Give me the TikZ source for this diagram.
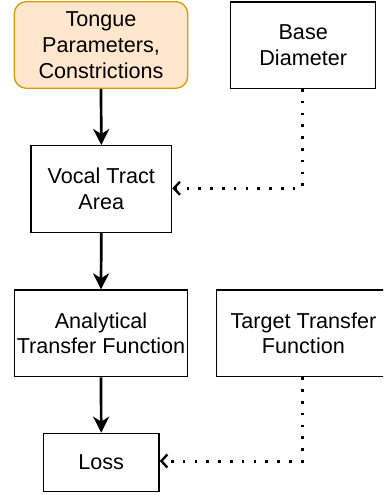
\documentclass[tikz,border=0pt]{standalone}
\usepackage{fontspec}
\setmainfont{Liberation Sans}
\usetikzlibrary{arrows.meta}
\definecolor{orfill}{HTML}{FFE6CC}
\definecolor{ordraw}{HTML}{D79B00}
\begin{document}
\begin{tikzpicture}[x=1pt,y=-1pt,
  box/.style={draw=black, line width=1.3pt, fill=white, rectangle, align=center, inner sep=0pt,
    font=\fontsize{21.6pt}{25.7pt}\selectfont},
  solidarrow/.style={line width=2.7pt, -{Stealth[length=16pt, width=16pt, inset=5pt]}},
  dotarrow/.style={line width=3pt, dash pattern=on 2.6pt off 9.2pt, -{Straight Barb[length=6pt, width=13pt, line width=2.4pt]}}]
\useasboundingbox (0,0) rectangle (383,495);
\clip (0,0) rectangle (383,495);
\node[box, minimum width=173.4pt, minimum height=86.6pt, fill=orfill, draw=ordraw, rounded corners=12pt] (tongue) at (101,45) {Tongue\\Parameters,\\Constrictions};
\node[box, minimum width=145pt, minimum height=86.3pt] (base) at (303.2,45.2) {Base\\Diameter};
\node[box, minimum width=140.7pt, minimum height=86.6pt] (vocal) at (101.3,189) {Vocal Tract\\Area};
\node[box, minimum width=173.4pt, minimum height=86.7pt] (analytical) at (101,333.3) {Analytical\\Transfer Function};
\node[box, minimum width=173.4pt, minimum height=86.7pt] (target) at (303.4,333.3) {Target Transfer\\Function};
\node[box, minimum width=115.7pt, minimum height=58.4pt] (loss) at (101.2,462.5) {Loss};
\coordinate (c1) at (302.3,188.3);
\coordinate (c2) at (302.3,461);
\draw[solidarrow] (tongue.south) -- (vocal.north);
\draw[solidarrow] (vocal.south) -- (analytical.north);
\draw[solidarrow] (analytical.south) -- (loss.north);
\draw[dotarrow] (base.south -| c1) -- (c1) -- (c1 -| vocal.east);
\draw[dotarrow] (target.south -| c2) -- (c2) -- (c2 -| loss.east);
\end{tikzpicture}
\end{document}
